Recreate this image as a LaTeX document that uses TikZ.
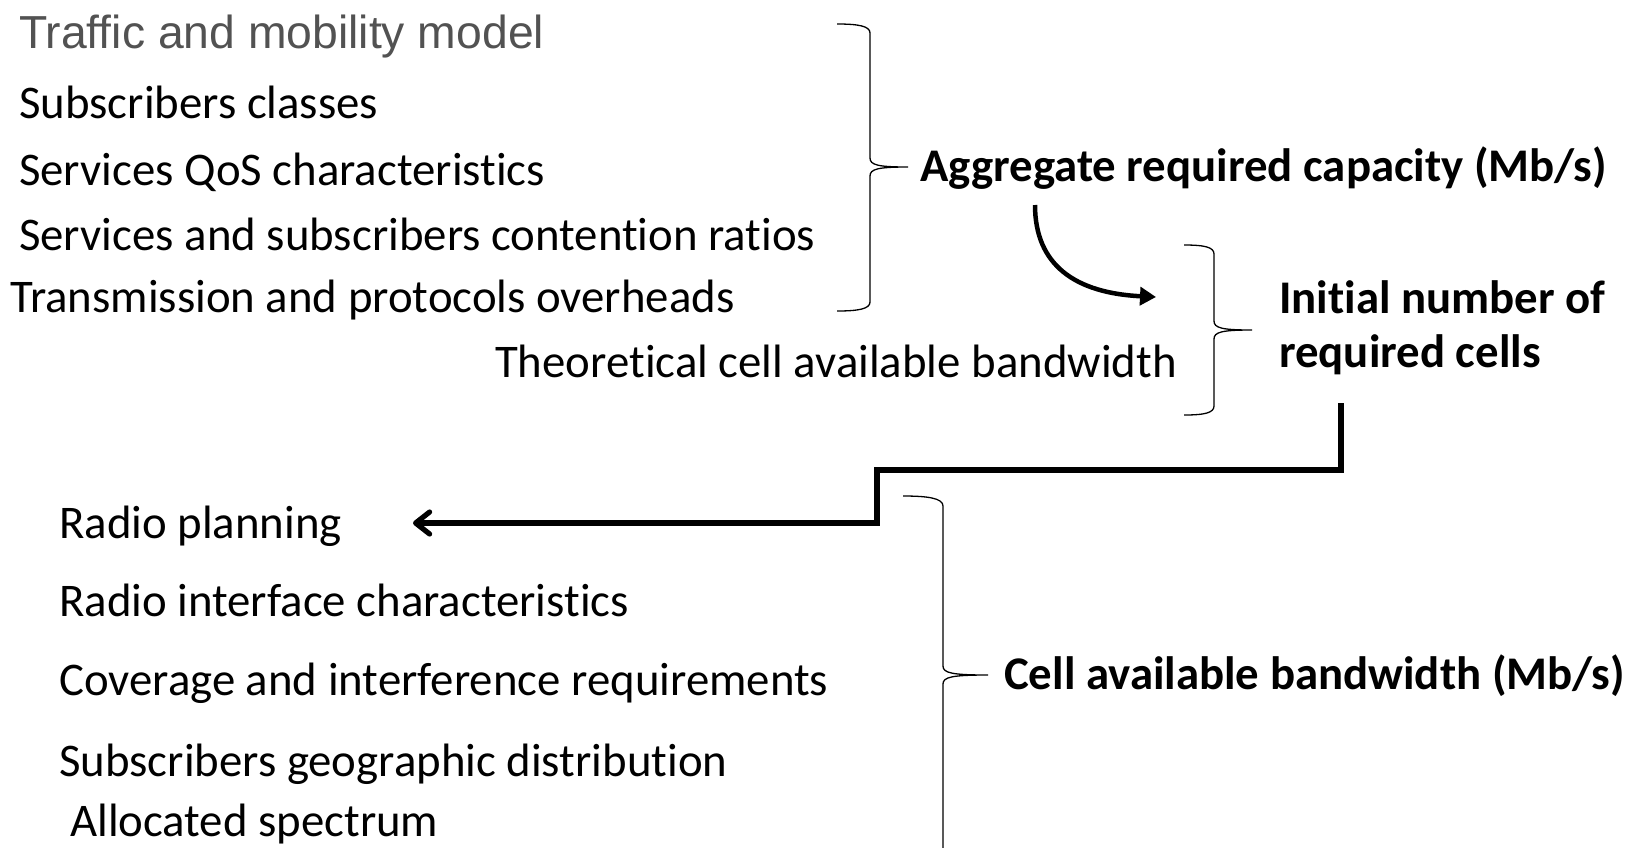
\documentclass[tikz,border=0pt]{standalone}
\usepackage{fontspec}
\setmainfont{Carlito}[Ligatures={NoCommon}]
\newfontfamily\arialfont{Liberation Sans}
\usetikzlibrary{arrows.meta}
\definecolor{txtgray}{RGB}{82,82,82}
\begin{document}
\begin{tikzpicture}[x=1pt,y=-1pt,
  lbl/.style={anchor=base west, inner sep=0pt, font=\fontsize{46.8pt}{56pt}\selectfont},
  bld/.style={anchor=base west, inner sep=0pt, font=\fontsize{46.8pt}{56pt}\selectfont\bfseries},
  grey/.style={anchor=base west, inner sep=0pt, text=txtgray, font=\fontsize{46.3pt}{56pt}\selectfont\arialfont},
  brc/.style={line width=1.3pt},
  curvearrow/.style={line width=4.5pt, -{Triangle[length=16pt,width=18pt]}},
  elbow/.style={line width=5.2pt, line join=miter, -{Straight Barb[length=14pt,width=22pt,line cap=round,line join=round]}}]
\useasboundingbox (0,0) rectangle (1637,847);

% left group (top)
\node[grey] (t1) at (19,48) {Traffic and mobility model};
\node[lbl] (t2) at (19,118) {Subscribers classes};
\node[lbl] (t3) at (19,185) {Services QoS characteristics};
\node[lbl] (t4) at (19,250) {Services and subscribers contention ratios};
\node[lbl] (t5) at (10,312) {Transmission and protocols overheads};
\node[lbl] (t6) at (495,377) {Theoretical cell available bandwidth};

% results
\node[bld] (agg) at (920,181) {Aggregate required capacity (Mb/s)};
\node[bld] (ini1) at (1279,313) {Initial number of};
\node[bld] (ini2) at (1279,367) {required cells};
\node[bld] (cab) at (1004,689) {Cell available bandwidth (Mb/s)};

% left group (bottom)
\node[lbl] (b1) at (59,538) {Radio planning};
\node[lbl] (b2) at (59,616) {Radio interface characteristics};
\node[lbl] (b3) at (59,695) {Coverage and interference requirements};
\node[lbl] (b4) at (59,776) {Subscribers geographic distribution};
\node[lbl] (b5) at (70,836) {Allocated spectrum};

% braces
\draw[brc] (837,24) .. controls (858,24) and (870,26) .. (870,33) -- (870,158)
  .. controls (870,165) and (878,167) .. (908,167)
  .. controls (878,167) and (870,169) .. (870,176) -- (870,302)
  .. controls (870,309) and (858,311) .. (837,311);
\draw[brc] (1184,245) .. controls (1204,245) and (1214,247) .. (1214,254) -- (1214,321)
  .. controls (1214,328) and (1222,330) .. (1252,330)
  .. controls (1222,330) and (1214,332) .. (1214,339) -- (1214,406)
  .. controls (1214,413) and (1204,415) .. (1184,415);
\draw[brc] (903,496) .. controls (927,496) and (943,498) .. (943,506) -- (943,666)
  .. controls (943,673) and (952,675) .. (988,675)
  .. controls (952,675) and (943,677) .. (943,684) -- (943,850);

% connectors
\coordinate (c1) at (1035,205);
\coordinate (c2) at (1156,297);
\draw[curvearrow] (c1) .. controls (1035,265) and (1075,293) .. (c2);

\coordinate (e1) at (1341,403);
\coordinate (e2) at (877,470);
\coordinate (e3) at (413,523);
\draw[elbow] (e1) |- (e2) |- (e3);
\end{tikzpicture}
\end{document}
